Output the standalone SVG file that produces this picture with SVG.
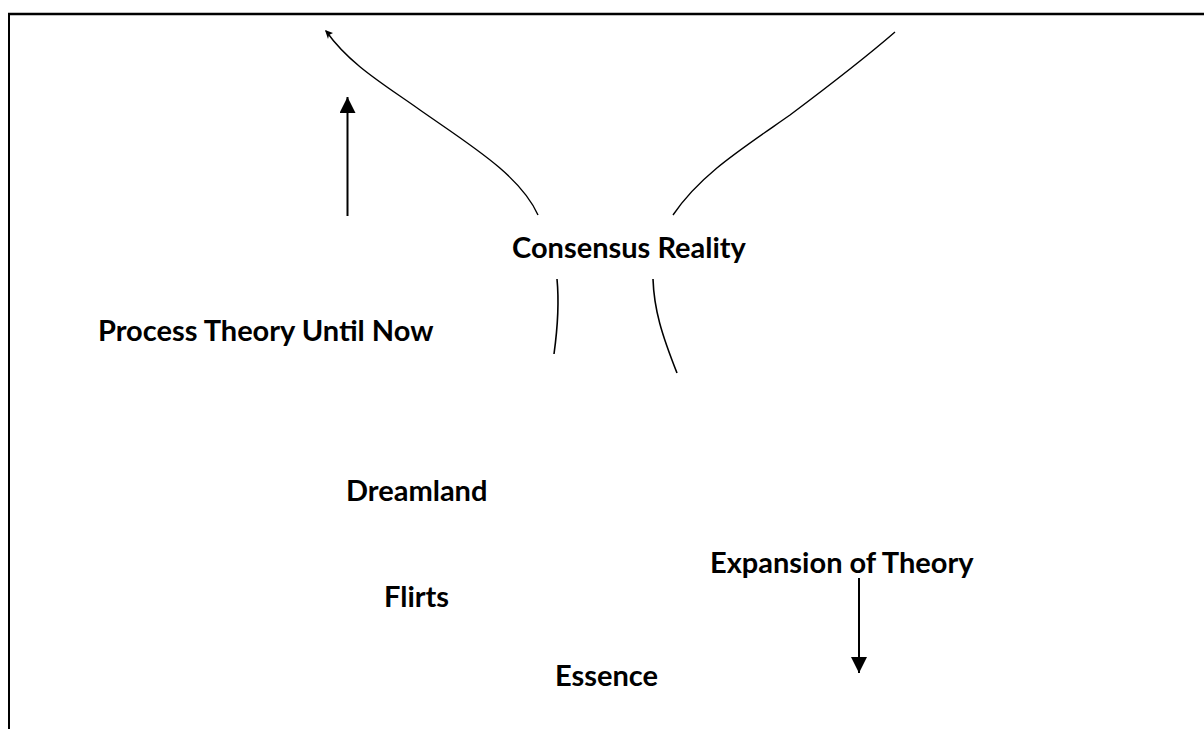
<svg xmlns="http://www.w3.org/2000/svg" width="1204" height="729" viewBox="0 0 1204 729">
<style>
.t{font-family:Lato,"Open Sans","Liberation Sans",sans-serif;font-weight:bold;font-size:29px;fill:#000}
.c{fill:none;stroke:#000;stroke-width:1.4}
.a{fill:none;stroke:#000;stroke-width:2}
</style>
<defs>
<marker id="ah" viewBox="0 0 10 10" refX="10" refY="5" markerWidth="16" markerHeight="16" markerUnits="userSpaceOnUse" orient="auto"><path d="M0,0 L10,5 L0,10 Z" fill="#000"/></marker>
</defs>
<rect width="1204" height="729" fill="#fff"/>
<g id="frame">
<line x1="8" y1="14" x2="1204" y2="14" stroke="#000" stroke-width="2.5"/>
<line x1="9" y1="13" x2="9" y2="729" stroke="#000" stroke-width="2"/>
</g>
<g id="connectors">
<path class="c" d="M538,215 C520,175 470,145 420,110 C385,85 350,65 326,31"/>
<path d="M325,30 L333,33 L329,35 L328,39 Z" fill="#000"/>
<path class="c" d="M673,215 C700,175 740,150 790,115 C830,85 865,58 895,32"/>
<path class="c" d="M557,279 C559,300 558,325 554,354" style="stroke-width:1.6"/>
<path class="c" d="M653,279 C654,310 662,335 677,373" style="stroke-width:1.6"/>
<line class="a" x1="347.5" y1="216" x2="347.5" y2="97" marker-end="url(#ah)"/>
<line class="a" x1="859" y1="578" x2="859" y2="673" marker-end="url(#ah)"/>
</g>
<g id="consensus"><text class="t" x="512" y="258">Consensus Reality</text></g>
<g id="process"><text class="t" x="98" y="341">Process Theory Until Now</text></g>
<g id="dreamland"><text class="t" x="346" y="501">Dreamland</text></g>
<g id="expansion"><text class="t" x="710" y="573">Expansion of Theory</text></g>
<g id="flirts"><text class="t" x="384" y="607">Flirts</text></g>
<g id="essence"><text class="t" x="555" y="686">Essence</text></g>
</svg>
